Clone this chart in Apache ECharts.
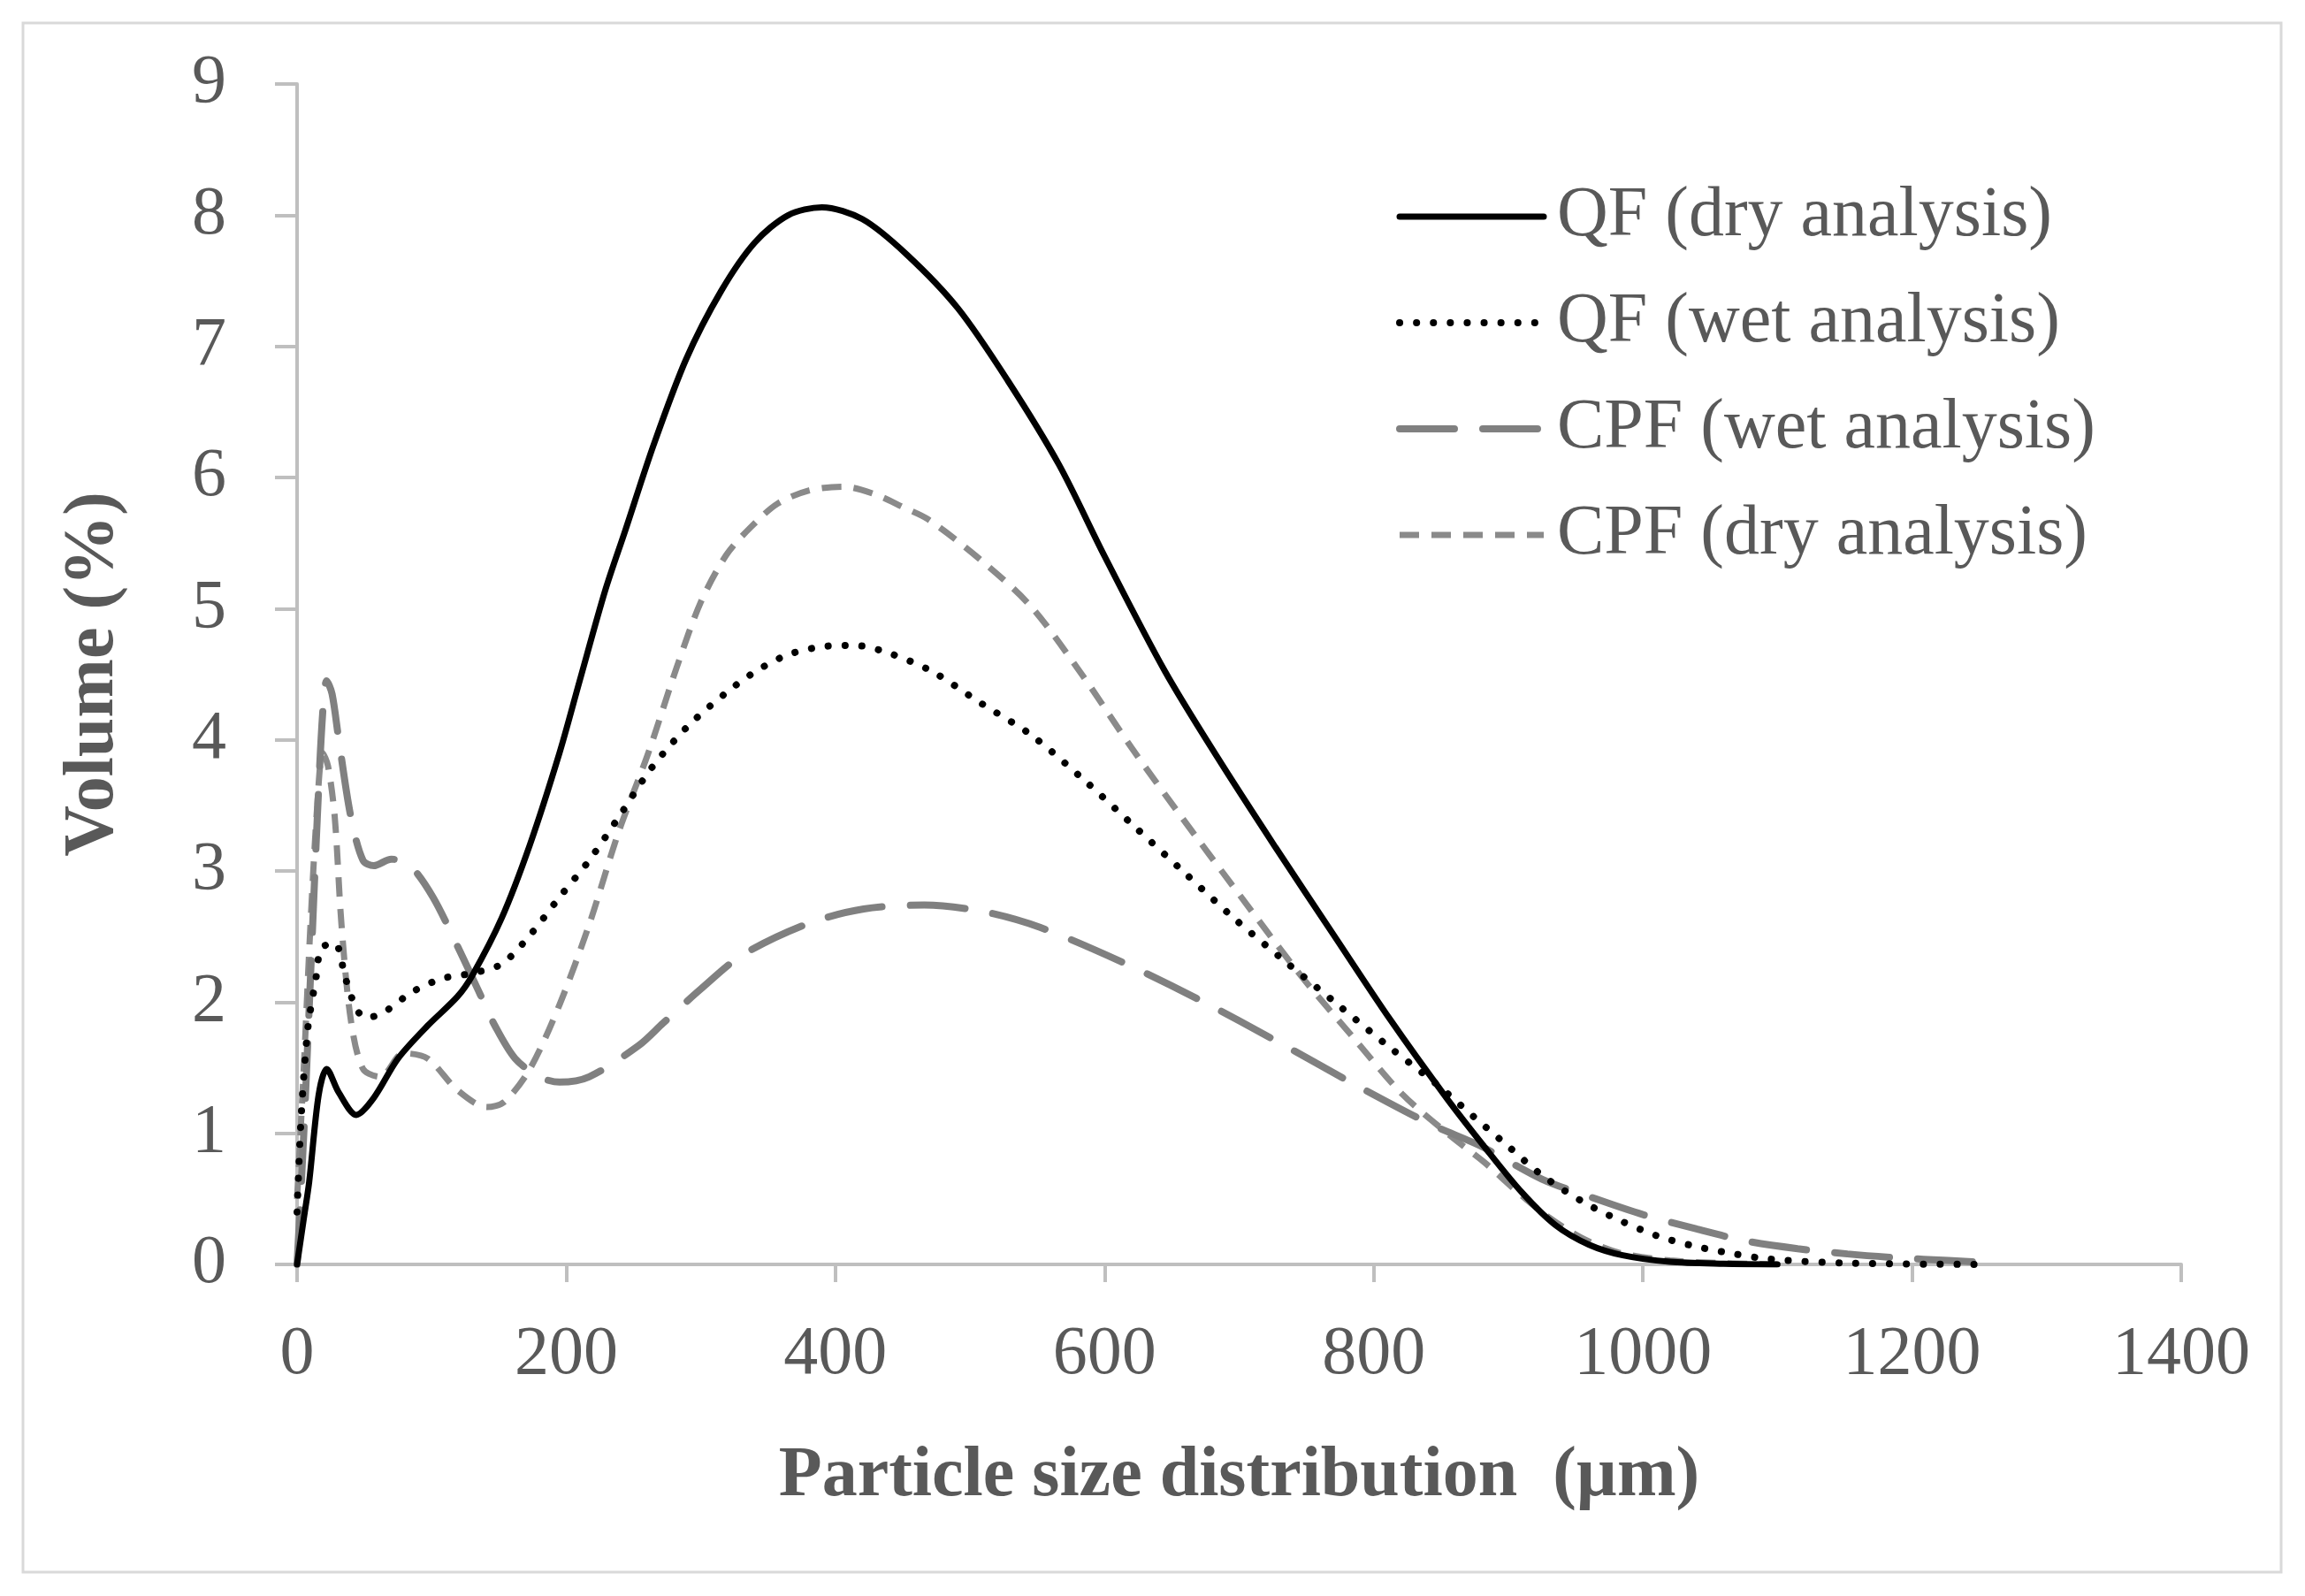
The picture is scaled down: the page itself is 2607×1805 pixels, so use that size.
<!DOCTYPE html>
<html>
<head>
<meta charset="utf-8">
<script src="https://cdn.jsdelivr.net/npm/echarts@6/dist/echarts.min.js"></script>
<style>
html,body{margin:0;padding:0;background:#fff;}
#c{width:2607px;height:1805px;}
</style>
</head>
<body>
<div id="c"></div>
<script>
// Series names
var seriesNames = ['QF (dry analysis)', 'QF (wet analysis)', 'CPF (wet analysis)', 'CPF (dry analysis)'];

// Axis ticks
var xTicks = [0, 200, 400, 600, 800, 1000, 1200, 1400];
var yTicks = [0, 1, 2, 3, 4, 5, 6, 7, 8, 9];

// [particle size (µm), volume (%)]
var qfDry = [[0,0],[5,0.35],[9,0.63],[16,1.29],[22,1.49],[31,1.31],[44,1.14],[57,1.27],[75,1.57],[97,1.82],[119,2.04],[130,2.2],[152,2.64],[173,3.2],[195,3.9],[210,4.45],[229,5.14],[244,5.6],[265,6.25],[289,6.9],[315,7.42],[340,7.79],[365,8.0],[390,8.06],[420,7.97],[453,7.7],[491,7.29],[528,6.74],[566,6.1],[600,5.4],[645,4.52],[683,3.88],[727,3.18],[771,2.5],[812,1.87],[854,1.27],[882,0.9],[910,0.55],[935,0.3],[960,0.15],[985,0.07],[1020,0.02],[1060,0.005],[1100,0]];

var qfWet = [[0,0.4],[3,1.12],[8,1.8],[14,2.18],[18,2.41],[28,2.45],[36,2.18],[44,1.95],[51,1.88],[64,1.92],[86,2.08],[108,2.18],[130,2.22],[152,2.29],[173,2.51],[195,2.8],[217,3.08],[239,3.41],[263,3.78],[290,4.1],[319,4.36],[342,4.53],[365,4.65],[390,4.71],[414,4.72],[440,4.66],[472,4.52],[508,4.28],[545,4.04],[583,3.71],[620,3.36],[658,3.0],[695,2.65],[733,2.32],[771,2.0],[810,1.67],[846,1.38],[875,1.12],[900,0.9],[925,0.68],[955,0.48],[982,0.34],[1010,0.22],[1038,0.14],[1068,0.08],[1095,0.04],[1151,0.01],[1253,0]];

var cpfWet = [[0,0],[5,1.0],[10,2.2],[15,3.4],[19,4.2],[22,4.45],[26,4.35],[31,4.0],[40,3.41],[49,3.08],[57,3.04],[70,3.09],[84,3.04],[101,2.8],[119,2.43],[136,2.06],[147,1.82],[162,1.57],[180,1.43],[195,1.39],[217,1.43],[254,1.67],[272,1.84],[300,2.1],[331,2.36],[380,2.6],[421,2.71],[466,2.74],[510,2.69],[552,2.57],[612,2.31],[670,2.02],[730,1.69],[788,1.36],[842,1.07],[880,0.9],[925,0.65],[965,0.5],[1000,0.38],[1040,0.27],[1076,0.18],[1115,0.12],[1152,0.08],[1190,0.05],[1227,0.03],[1261,0.01]];

var cpfDry = [[0,0.5],[5,1.5],[10,2.6],[15,3.5],[19,3.9],[23,3.8],[28,3.41],[33,2.59],[40,1.86],[49,1.49],[62,1.43],[79,1.61],[97,1.57],[119,1.33],[141,1.2],[154,1.24],[173,1.49],[195,1.98],[217,2.59],[239,3.3],[261,3.9],[282,4.55],[300,5.05],[319,5.41],[337,5.62],[357,5.8],[380,5.9],[406,5.93],[430,5.87],[451,5.77],[469,5.68],[507,5.38],[545,5.02],[583,4.5],[620,3.94],[658,3.4],[695,2.89],[746,2.2],[784,1.74],[821,1.3],[857,0.98],[882,0.78],[906,0.56],[930,0.36],[955,0.2],[982,0.09],[1020,0.03],[1060,0.01],[1100,0]];

var seriesData = [qfDry, qfWet, cpfWet, cpfDry];
var lineStyles = [
  {color:'#000000', width:7, type:'solid', cap:'round'},
  {color:'#000000', width:8, type:[0.1,19], cap:'round'},
  {color:'#808080', width:8, type:[62,32], cap:'round'},
  {color:'#8a8a8a', width:7, type:[22,14]}
];

var TEXT = '#595959';
var AXIS = '#bfbfbf';
var FONT = '"Liberation Serif", "DejaVu Serif", serif';

var chart = echarts.init(document.getElementById('c'), null, {renderer:'canvas'});

var series = seriesNames.map(function(n, i){
  return {
    name: n,
    type: 'line',
    data: seriesData[i],
    smooth: 0.3,
    symbol: 'none',
    showSymbol: false,
    lineStyle: lineStyles[i],
    itemStyle: {color: lineStyles[i].color},
    z: 10 - i
  };
});

var legendData = seriesNames.map(function(n, i){
  return {
    name: n,
    itemStyle: {opacity: 0},
    lineStyle: {color: lineStyles[i].color, width: lineStyles[i].width, type: lineStyles[i].type, cap: lineStyles[i].cap || 'butt'}
  };
});

chart.setOption({
  animation: false,
  backgroundColor: '#ffffff',
  graphic: [{
    type: 'rect',
    shape: {x: 26, y: 26, width: 2554, height: 1752},
    style: {fill: 'none', stroke: '#d9d9d9', lineWidth: 3},
    silent: true
  }],
  grid: {left: 336, right: 140, top: 95, bottom: 375, containLabel: false},
  legend: {
    orient: 'vertical',
    left: 1574,
    top: 200,
    itemWidth: 163,
    itemHeight: 20,
    itemGap: 40,
    data: legendData,
    itemStyle: {opacity: 0},
    textStyle: {fontFamily: FONT, fontSize: 80, color: TEXT, lineHeight: 80, padding: [0,0,0,10]}
  },
  xAxis: {
    type: 'value',
    min: xTicks[0],
    max: xTicks[xTicks.length-1],
    interval: 200,
    name: 'Particle size distribution  (µm)',
    nameLocation: 'middle',
    nameGap: 200,
    nameTextStyle: {fontFamily: FONT, fontSize: 80, fontWeight: 'bold', color: TEXT},
    axisLine: {show: true, lineStyle: {color: AXIS, width: 4}},
    axisTick: {show: true, inside: false, length: 20, lineStyle: {color: AXIS, width: 4}},
    axisLabel: {fontFamily: FONT, fontSize: 78, color: TEXT, margin: 64, formatter: function(v){ return String(v); }},
    splitLine: {show: false}
  },
  yAxis: {
    type: 'value',
    min: yTicks[0],
    max: yTicks[yTicks.length-1],
    interval: 1,
    name: 'Volume (%)',
    nameLocation: 'middle',
    nameGap: 190,
    nameTextStyle: {fontFamily: FONT, fontSize: 80, fontWeight: 'bold', color: TEXT},
    axisLine: {show: true, lineStyle: {color: AXIS, width: 4}},
    axisTick: {show: true, inside: false, length: 25, lineStyle: {color: AXIS, width: 4}},
    axisLabel: {fontFamily: FONT, fontSize: 78, color: TEXT, margin: 80, formatter: function(v){ return String(v); }},
    splitLine: {show: false}
  },
  series: series
});
</script>
</body>
</html>
